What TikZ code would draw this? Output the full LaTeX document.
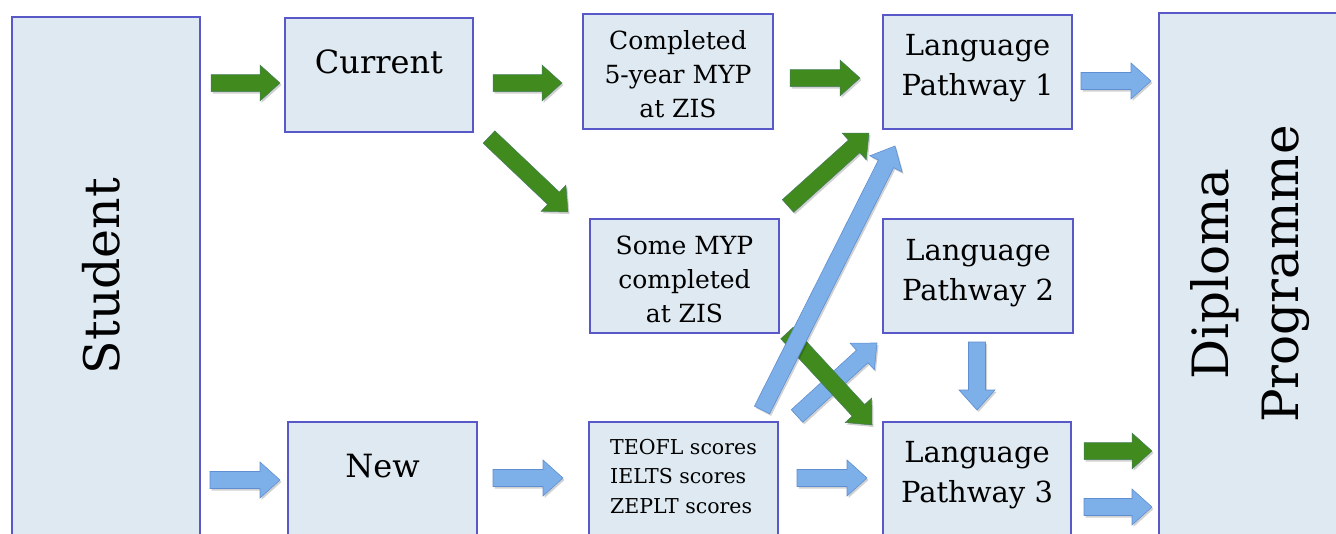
\documentclass[tikz,border=0pt]{standalone}
\usepackage{fontspec}
\setmainfont{DejaVu Serif}
\usetikzlibrary{calc,shadows}
\definecolor{boxfill}{RGB}{222,233,241}
\definecolor{boxline}{RGB}{88,88,200}
\definecolor{agreen}{RGB}{64,138,30}
\definecolor{agreenedge}{RGB}{70,125,95}
\definecolor{ablue}{RGB}{125,175,232}
\definecolor{abluedge}{RGB}{95,143,210}
\newcommand\blockarrow[3]{%
  \coordinate (bh) at ($(#3)!20pt!(#2)$);
  \path[#1] ($(#2)!8.5pt!90:(#3)$) -- ($(bh)!8.5pt!90:(#3)$) -- ($(bh)!18pt!90:(#3)$)
    -- (#3) -- ($(bh)!18pt!-90:(#3)$) -- ($(bh)!8.5pt!-90:(#3)$) -- ($(#2)!8.5pt!-90:(#3)$) -- cycle;}
\begin{document}
\begin{tikzpicture}[x=1pt,y=-1pt,
  box/.style={draw=boxline, fill=boxfill, line width=1.3pt, inner sep=0pt,
    minimum width=189pt, minimum height=114pt},
  bigtext/.style={font=\fontsize{32}{38}\selectfont, text height=24pt, text depth=28pt},
  lptext/.style={font=\fontsize{29}{40}\selectfont, align=center, text depth=15pt},
  midtext/.style={font=\fontsize{25}{34}\selectfont, align=center},
  smalltext/.style={font=\fontsize{20.5}{29.5}\selectfont, align=left, text depth=6pt},
  ashadow/.style={drop shadow={shadow xshift=1.5pt, shadow yshift=-2pt, opacity=.18, fill=black}},
  garrow/.style={fill=agreen, draw=agreenedge, line width=.5pt, ashadow},
  barrow/.style={fill=ablue, draw=abluedge, line width=.6pt, ashadow}]
\useasboundingbox (0,0) rectangle (1336,533);
\clip (0,0) rectangle (1336,533);
% boxes
\node[box, rotate=90, minimum width=518pt, minimum height=188pt, text depth=10pt,
  font=\fontsize{49}{60}\selectfont] (student) at (106,276) {Student};
\node[box, bigtext, minimum width=188pt] (current) at (379,75) {Current};
\node[box, midtext, minimum width=190pt, minimum height=115pt, text height=93pt] (completed) at (678,71.5)
  {Completed\\5-year MYP\\at ZIS};
\node[box, lptext] (lp1) at (977.5,72) {Language\\Pathway 1};
\node[box, midtext, text height=94pt] (some) at (684.5,276) {Some MYP\\completed\\at ZIS};
\node[box, lptext, text depth=13pt, minimum width=190pt] (lp2) at (978,276) {Language\\Pathway 2};
\node[box, bigtext] (new) at (382.5,479) {New};
\node[box, smalltext] (tests) at (683.5,479) {TEOFL scores\\IELTS scores\\ZEPLT scores};
\node[box, lptext, minimum width=188pt] (lp3) at (977,479) {Language\\Pathway 3};
\node[box, rotate=90, minimum width=522pt, minimum height=182pt, align=center,
  font=\fontsize{50}{70}\selectfont] (dp) at (1250,274) {Diploma\\Programme};
% arrow end points
\coordinate (a1s) at (211,83);   \coordinate (a1e) at (280,83);
\coordinate (a2s) at (493,83);   \coordinate (a2e) at (562,83);
\coordinate (a3s) at (790,78);   \coordinate (a3e) at (860,78);
\coordinate (a4s) at (1081,81);  \coordinate (a4e) at (1151,81);
\coordinate (a5s) at (489,137);  \coordinate (a5e) at (568,212);
\coordinate (a6s) at (788,206);  \coordinate (a6e) at (869,133);
\coordinate (a7s) at (762,410);  \coordinate (a7e) at (895,146);
\coordinate (a8s) at (787,333);  \coordinate (a8e) at (872,425);
\coordinate (a9s) at (797,416);  \coordinate (a9e) at (877,343);
\coordinate (a10s) at (977,342); \coordinate (a10e) at (977,410);
\coordinate (a11s) at (1084,451); \coordinate (a11e) at (1152,451);
\coordinate (a12s) at (1084,507); \coordinate (a12e) at (1152,507);
\coordinate (a13s) at (210,480); \coordinate (a13e) at (280,480);
\coordinate (a14s) at (493,478); \coordinate (a14e) at (563,478);
\coordinate (a15s) at (797,478); \coordinate (a15e) at (867,478);
% arrows
\blockarrow{garrow}{a1s}{a1e}
\blockarrow{garrow}{a2s}{a2e}
\blockarrow{garrow}{a3s}{a3e}
\blockarrow{barrow}{a4s}{a4e}
\blockarrow{garrow}{a5s}{a5e}
\blockarrow{garrow}{a6s}{a6e}
\blockarrow{barrow}{a9s}{a9e}
\blockarrow{garrow}{a8s}{a8e}
\blockarrow{barrow}{a7s}{a7e}
\blockarrow{barrow}{a10s}{a10e}
\blockarrow{garrow}{a11s}{a11e}
\blockarrow{barrow}{a12s}{a12e}
\blockarrow{barrow}{a13s}{a13e}
\blockarrow{barrow}{a14s}{a14e}
\blockarrow{barrow}{a15s}{a15e}
\end{tikzpicture}
\end{document}
